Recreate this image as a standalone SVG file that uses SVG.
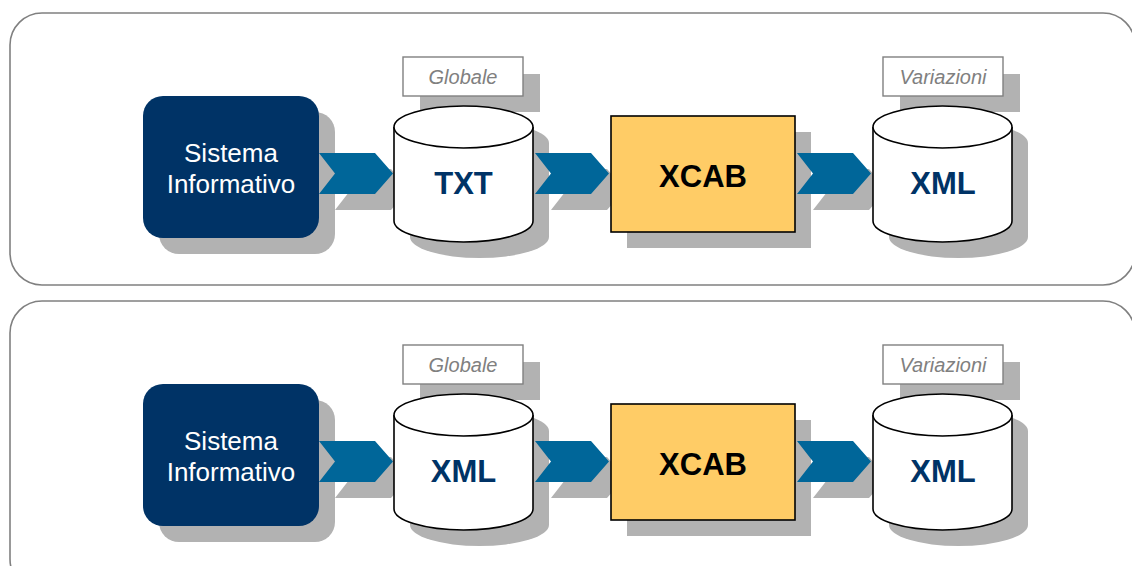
<svg xmlns="http://www.w3.org/2000/svg" width="1132" height="566" viewBox="0 0 1132 566">
<defs>
<style>
.panel{fill:#fff;stroke:#808080;stroke-width:1.6}
.sh{fill:#b2b2b2}
.sys{fill:#003366}
.arr{fill:#006699}
.cyl{fill:#fff;stroke:#000;stroke-width:1.6}
.proc{fill:#ffcc66;stroke:#000;stroke-width:1.6}
.lbl{fill:#fff;stroke:#808080;stroke-width:1.4}
.t-sys{font-family:"Liberation Sans",Arial,sans-serif;font-size:26px;fill:#fff;text-anchor:middle}
.t-db{font-family:"Liberation Sans",Arial,sans-serif;font-size:31px;font-weight:bold;fill:#003366;text-anchor:middle}
.t-proc{font-family:"Liberation Sans",Arial,sans-serif;font-size:31px;font-weight:bold;fill:#000;text-anchor:middle}
.t-lbl{font-family:"Liberation Sans",Arial,sans-serif;font-size:20px;font-style:italic;fill:#808080;text-anchor:middle}
</style>
<path id="cylShape" d="M394,127 L394,221 A69.5,21 0 0 0 533,221 L533,127 A69.5,21 0 0 0 394,127 Z"/>
<path id="chev" d="M0,0 L56,0 L74,20.5 L56,41 L0,41 L16,20.5 Z"/>
</defs>
<rect class="panel" x="10" y="13" width="1125" height="272" rx="32"/>
<rect class="panel" x="10" y="301" width="1125" height="290" rx="32"/>

<g id="row1">
<g id="shadows1" class="sh">
<rect x="159" y="112" width="176" height="142" rx="20"/>
<use href="#cylShape" transform="translate(16,16)"/>
<use href="#cylShape" transform="translate(495,16)"/>
<rect x="627" y="132" width="184" height="116"/>
<rect x="420" y="74" width="120" height="38"/>
<rect x="900" y="74" width="120" height="38"/>
<use href="#chev" transform="translate(335,169)"/>
<use href="#chev" transform="translate(551,169)"/>
<use href="#chev" transform="translate(813,169)"/>
</g>
<g id="connectors1">
<use class="arr" href="#chev" transform="translate(319,153)"/>
<use class="arr" href="#chev" transform="translate(535,153)"/>
<use class="arr" href="#chev" transform="translate(797,153)"/>
</g>
<g id="sistema1">
<rect class="sys" x="143" y="96" width="176" height="142" rx="20"/>
<text class="t-sys" x="231" y="162">Sistema</text>
<text class="t-sys" x="231" y="193">Informativo</text>
</g>
<g id="globale1">
<rect class="lbl" x="403" y="57" width="120" height="39"/>
<text class="t-lbl" x="463" y="84">Globale</text>
</g>
<g id="txt1">
<use class="cyl" href="#cylShape"/>
<path class="cyl" d="M394,127 A69.5,21 0 0 0 533,127" fill="none"/>
<text class="t-db" x="463.5" y="194">TXT</text>
</g>
<g id="xcab1">
<rect class="proc" x="611" y="116" width="184" height="116"/>
<text class="t-proc" x="703" y="187">XCAB</text>
</g>
<g id="variazioni1">
<rect class="lbl" x="883" y="57" width="120" height="39"/>
<text class="t-lbl" x="943" y="84">Variazioni</text>
</g>
<g id="xml1">
<use class="cyl" href="#cylShape" transform="translate(479,0)"/>
<path class="cyl" d="M873,127 A69.5,21 0 0 0 1012,127" fill="none"/>
<text class="t-db" x="943" y="194">XML</text>
</g>
</g>

<g id="row2" transform="translate(0,288)">
<g id="shadows2" class="sh">
<rect x="159" y="112" width="176" height="142" rx="20"/>
<use href="#cylShape" transform="translate(16,16)"/>
<use href="#cylShape" transform="translate(495,16)"/>
<rect x="627" y="132" width="184" height="116"/>
<rect x="420" y="74" width="120" height="38"/>
<rect x="900" y="74" width="120" height="38"/>
<use href="#chev" transform="translate(335,169)"/>
<use href="#chev" transform="translate(551,169)"/>
<use href="#chev" transform="translate(813,169)"/>
</g>
<g id="connectors2">
<use class="arr" href="#chev" transform="translate(319,153)"/>
<use class="arr" href="#chev" transform="translate(535,153)"/>
<use class="arr" href="#chev" transform="translate(797,153)"/>
</g>
<g id="sistema2">
<rect class="sys" x="143" y="96" width="176" height="142" rx="20"/>
<text class="t-sys" x="231" y="162">Sistema</text>
<text class="t-sys" x="231" y="193">Informativo</text>
</g>
<g id="globale2">
<rect class="lbl" x="403" y="57" width="120" height="39"/>
<text class="t-lbl" x="463" y="84">Globale</text>
</g>
<g id="xml2a">
<use class="cyl" href="#cylShape"/>
<path class="cyl" d="M394,127 A69.5,21 0 0 0 533,127" fill="none"/>
<text class="t-db" x="463.5" y="194">XML</text>
</g>
<g id="xcab2">
<rect class="proc" x="611" y="116" width="184" height="116"/>
<text class="t-proc" x="703" y="187">XCAB</text>
</g>
<g id="variazioni2">
<rect class="lbl" x="883" y="57" width="120" height="39"/>
<text class="t-lbl" x="943" y="84">Variazioni</text>
</g>
<g id="xml2b">
<use class="cyl" href="#cylShape" transform="translate(479,0)"/>
<path class="cyl" d="M873,127 A69.5,21 0 0 0 1012,127" fill="none"/>
<text class="t-db" x="943" y="194">XML</text>
</g>
</g>
</svg>
